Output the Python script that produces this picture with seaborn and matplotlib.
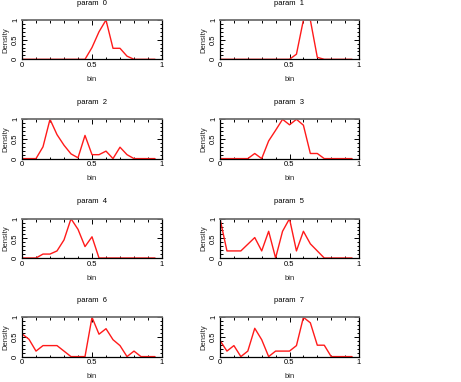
import matplotlib
matplotlib.use("Agg")
import matplotlib.pyplot as plt
from matplotlib.ticker import MultipleLocator
import seaborn as sns
import pandas as pd

# bin centres shared by every panel
bins = [0.0, 0.05, 0.1, 0.15, 0.2, 0.25, 0.3, 0.35, 0.4, 0.45,
        0.5, 0.55, 0.6, 0.65, 0.7, 0.75, 0.8, 0.85, 0.9, 0.95]

param_0 = [0, 0, 0, 0, 0, 0, 0, 0, 0, 0, 0.3, 0.7, 1.0, 0.28, 0.28, 0.08, 0, 0, 0, 0]
param_1 = [0, 0, 0, 0, 0, 0, 0, 0, 0, 0, 0, 0.13, 1.0, 1.0, 0.05, 0, 0, 0, 0, 0]
param_2 = [0, 0, 0, 0.3, 1.0, 0.61, 0.34, 0.12, 0.02, 0.59, 0.1, 0.1, 0.19, 0, 0.29, 0.1, 0, 0, 0, 0]
param_3 = [0, 0, 0, 0, 0, 0.13, 0, 0.45, 0.72, 1.0, 0.86, 1.0, 0.85, 0.13, 0.13, 0, 0, 0, 0, 0]
param_4 = [0, 0, 0, 0.1, 0.1, 0.18, 0.46, 1.0, 0.73, 0.29, 0.54, 0, 0, 0, 0, 0, 0, 0, 0, 0]
param_5 = [1.0, 0.18, 0.18, 0.18, 0.35, 0.52, 0.18, 0.68, 0, 0.68, 1.0, 0.18, 0.68, 0.36, 0.18, 0, 0, 0, 0, 0]
param_6 = [0.58, 0.44, 0.14, 0.28, 0.28, 0.28, 0.14, 0, 0, 0, 1.0, 0.57, 0.71, 0.43, 0.28, 0, 0.14, 0, 0, 0]
param_7 = [0.41, 0.14, 0.28, 0, 0.14, 0.72, 0.43, 0, 0.14, 0.14, 0.14, 0.28, 1.0, 0.86, 0.29, 0.29, 0, 0, 0, 0]

params = [param_0, param_1, param_2, param_3, param_4, param_5, param_6, param_7]
titles = ["param  0", "param  1", "param  2", "param  3",
          "param  4", "param  5", "param  6", "param  7"]
tick_vals = [0, 0.5, 1]
tick_text = ["0", "0.5", "1"]

sns.set_style("ticks")
plt.rcParams['font.family'] = ['Liberation Sans', 'DejaVu Sans']
plt.rcParams['font.size'] = 5.5
plt.rcParams['text.color'] = 'black'

fig = plt.figure(figsize=(4.61, 3.82), dpi=100)

W, H = 461.0, 382.0
col_left = [22, 220]
col_width = [140, 139]
row_top = [20, 119.3, 218.7, 317.3]
row_h = 39.3

for i, vals in enumerate(params):
    r, c = i // 2, i % 2
    ax = fig.add_axes([col_left[c] / W, 1 - (row_top[r] + row_h) / H,
                       col_width[c] / W, row_h / H])
    df = pd.DataFrame({"bin": bins, "Density": vals})
    sns.lineplot(data=df, x="bin", y="Density", ax=ax, color="#ff1a1a", linewidth=1.0)
    ax.set_xlim(0, 1)
    ax.set_ylim(0, 1)
    ax.set_xticks(tick_vals)
    ax.set_xticklabels(tick_text)
    ax.set_yticks(tick_vals)
    ax.set_yticklabels(tick_text, rotation=90, va="center")
    ax.xaxis.set_minor_locator(MultipleLocator(0.1))
    ax.yaxis.set_minor_locator(MultipleLocator(0.1))
    ax.tick_params(which="both", direction="in", top=True, right=True,
                   width=0.7, color="black", labelsize=5.5, labelcolor="black", pad=2)
    ax.tick_params(which="major", length=3.5)
    ax.tick_params(which="minor", length=1.8)
    for s in ax.spines.values():
        s.set_linewidth(0.9)
        s.set_color("black")
    ax.spines["top"].set_color("#707070")
    ax.spines["top"].set_linewidth(1.3)
    ax.set_title(titles[i], fontsize=5.5, pad=11)
    ax.set_xlabel("bin", fontsize=5.5, labelpad=5)
    ax.set_ylabel("Density", fontsize=5.5, labelpad=2)

fig.savefig("out.png", dpi=100)
